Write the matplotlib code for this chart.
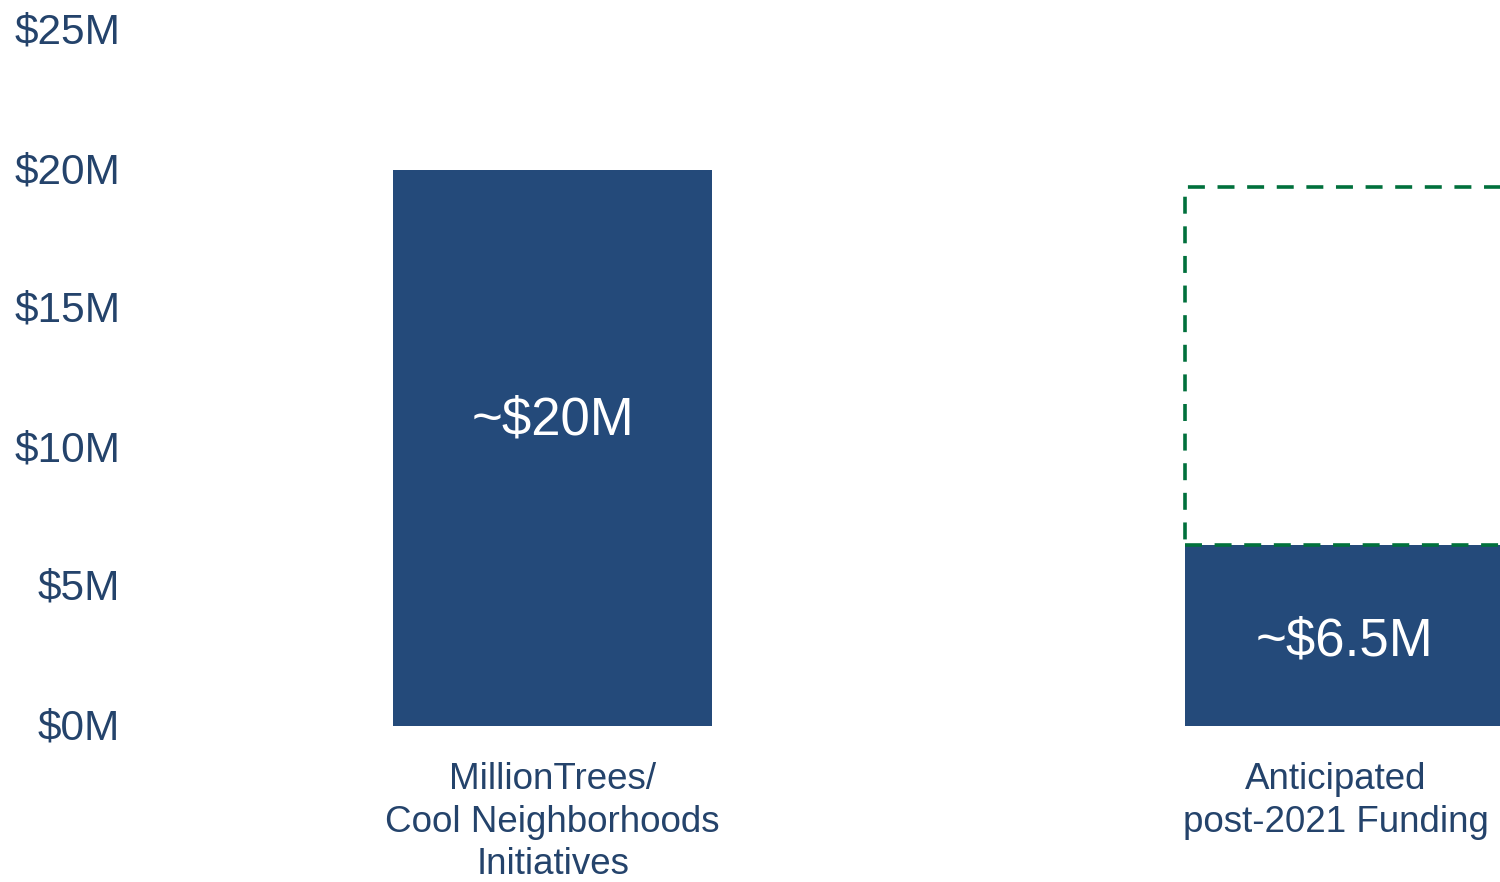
import matplotlib.pyplot as plt
import matplotlib.transforms as mtransforms
import numpy as np

categories = ["MillionTrees/\nCool Neighborhoods\nInitiatives", "Anticipated\npost-2021 Funding"]
values = [20, 6.5]
value_labels = ["~$20M", "~$6.5M"]
label_heights = [11.0, 3.05]
anticipated_top = 19.4
yticks = [0, 5, 10, 15, 20, 25]
ytick_labels = ["$0M", "$5M", "$10M", "$15M", "$20M", "$25M"]

navy = "#244a7a"
text_color = "#24436b"
green = "#00703c"

plt.rcParams["font.family"] = ["Liberation Sans", "DejaVu Sans"]

fig = plt.figure(figsize=(15, 8.82), dpi=100)
ax = fig.add_axes([130 / 1500, 156 / 882, 1370 / 1500, 695 / 882])

x = np.arange(len(categories))
width = 0.403
ax.bar(x, values, width=width, color=navy, zorder=2)

# dashed outline for the anticipated range on the second bar
ax.bar(x[1], anticipated_top - values[1], width=width, bottom=values[1], fill=False,
       edgecolor=green, linewidth=2.6, linestyle=(0, (4.7, 3.5)), zorder=3)

for xi, lab, h in zip(x, value_labels, label_heights):
    ax.text(xi, h, lab, ha="center", va="center", color="white", fontsize=38, zorder=4)

ax.set_xlim(-0.534, 1.197)
ax.set_ylim(0, 25)
ax.set_yticks(yticks)
ax.set_yticklabels(ytick_labels, fontsize=30.5, color=text_color)
ax.set_xticks(x)
ax.set_xticklabels(categories, fontsize=26.5, color=text_color, linespacing=1.28)
ax.tick_params(axis="both", length=0)
ax.tick_params(axis="y", pad=7)
ax.tick_params(axis="x", pad=26)
# nudge y labels up slightly
for t in ax.get_yticklabels():
    t.set_transform(t.get_transform() + mtransforms.ScaledTranslation(0, 0.025, fig.dpi_scale_trans))
# second label sits a little left of its bar centre
lbl = ax.get_xticklabels()[1]
lbl.set_transform(lbl.get_transform() + mtransforms.ScaledTranslation(-0.08, 0, fig.dpi_scale_trans))
for s in ax.spines.values():
    s.set_visible(False)

fig.savefig("out.png", dpi=100)
